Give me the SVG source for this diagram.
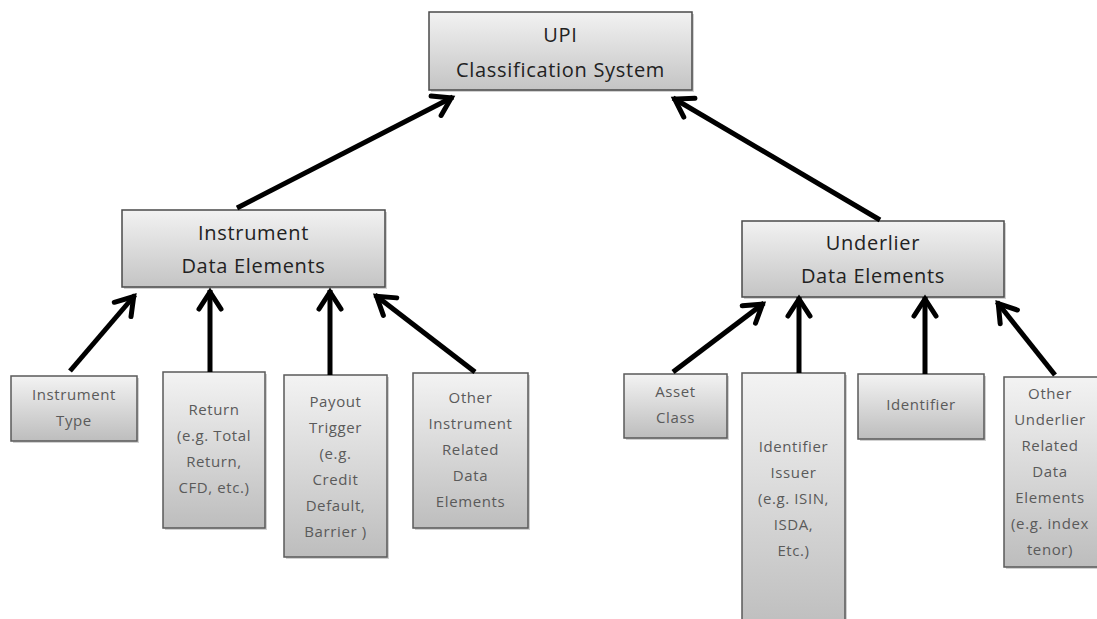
<svg xmlns="http://www.w3.org/2000/svg" width="1097" height="619" viewBox="0 0 1097 619">
<defs>
<linearGradient id="g" x1="0" y1="0" x2="0" y2="1">
<stop offset="0" stop-color="#f3f3f3"/>
<stop offset="1" stop-color="#bdbdbd"/>
</linearGradient>
<linearGradient id="gb" x1="0" y1="0" x2="0" y2="1">
<stop offset="0" stop-color="#f2f2f2"/>
<stop offset="1" stop-color="#c4c4c4"/>
</linearGradient>
<marker id="ah" markerUnits="userSpaceOnUse" viewBox="-30 -20 40 40" markerWidth="40" markerHeight="40" refX="0" refY="0" orient="auto" overflow="visible">
<path d="M-19 -11 L-2 0 L-19 11" fill="none" stroke="#000" stroke-width="5" stroke-linecap="round" stroke-linejoin="miter"/>
</marker>
</defs>
<style>
.box{fill:url(#g);stroke:#5a5a5a;stroke-width:1.5}
.big{fill:url(#gb);stroke:#4a4a4a;stroke-width:1.5}
.sh{fill:#000;opacity:0.18}
.t{font-family:"Open Sans","Noto Sans",sans-serif;font-size:15px;fill:#5a5a5a;text-anchor:middle;letter-spacing:0.6px}
.tb{font-family:"Open Sans","Noto Sans",sans-serif;font-size:20px;fill:#222;text-anchor:middle;letter-spacing:0.7px}
.c{stroke:#000;stroke-width:5;fill:none;stroke-linecap:butt;marker-end:url(#ah)}
</style>
<rect width="1097" height="619" fill="#fff"/>

<g id="upi">
<rect class="sh" x="431" y="14" width="263" height="78"/>
<rect class="big" x="429" y="12" width="263" height="78"/>
<text class="tb" x="560.5" y="42">UPI</text>
<text class="tb" x="560.5" y="77">Classification System</text>
</g>

<g id="instrument-de">
<rect class="sh" x="124" y="212" width="263" height="77"/>
<rect class="big" x="122" y="210" width="263" height="77"/>
<text class="tb" x="253.5" y="240">Instrument</text>
<text class="tb" x="253.5" y="273">Data Elements</text>
</g>

<g id="underlier-de">
<rect class="sh" x="744" y="223" width="262" height="76"/>
<rect class="big" x="742" y="221" width="262" height="76"/>
<text class="tb" x="873" y="250">Underlier</text>
<text class="tb" x="873" y="283">Data Elements</text>
</g>

<g id="instrument-type">
<rect class="sh" x="13" y="378" width="126" height="65"/>
<rect class="box" x="11" y="376" width="126" height="65"/>
<text class="t" x="74" y="400">Instrument</text>
<text class="t" x="74" y="426">Type</text>
</g>

<g id="return">
<rect class="sh" x="165" y="374" width="102" height="156"/>
<rect class="box" x="163" y="372" width="102" height="156"/>
<text class="t" x="214" y="415">Return</text>
<text class="t" x="214" y="441">(e.g. Total</text>
<text class="t" x="214" y="467">Return,</text>
<text class="t" x="214" y="493">CFD, etc.)</text>
</g>

<g id="payout-trigger">
<rect class="sh" x="286" y="377" width="103" height="182"/>
<rect class="box" x="284" y="375" width="103" height="182"/>
<text class="t" x="335.5" y="407">Payout</text>
<text class="t" x="335.5" y="433">Trigger</text>
<text class="t" x="335.5" y="459">(e.g.</text>
<text class="t" x="335.5" y="485">Credit</text>
<text class="t" x="335.5" y="511">Default,</text>
<text class="t" x="335.5" y="537">Barrier )</text>
</g>

<g id="other-instrument">
<rect class="sh" x="415" y="375" width="115" height="155"/>
<rect class="box" x="413" y="373" width="115" height="155"/>
<text class="t" x="470.5" y="403">Other</text>
<text class="t" x="470.5" y="429">Instrument</text>
<text class="t" x="470.5" y="455">Related</text>
<text class="t" x="470.5" y="481">Data</text>
<text class="t" x="470.5" y="507">Elements</text>
</g>

<g id="asset-class">
<rect class="sh" x="626" y="376" width="103" height="64"/>
<rect class="box" x="624" y="374" width="103" height="64"/>
<text class="t" x="675.5" y="397">Asset</text>
<text class="t" x="675.5" y="423">Class</text>
</g>

<g id="identifier-issuer">
<rect class="sh" x="744" y="375" width="103" height="260"/>
<rect class="box" x="742" y="373" width="103" height="260"/>
<text class="t" x="793.5" y="452">Identifier</text>
<text class="t" x="793.5" y="478">Issuer</text>
<text class="t" x="793.5" y="504">(e.g. ISIN,</text>
<text class="t" x="793.5" y="530">ISDA,</text>
<text class="t" x="793.5" y="556">Etc.)</text>
</g>

<g id="identifier">
<rect class="sh" x="860" y="376" width="126" height="65"/>
<rect class="box" x="858" y="374" width="126" height="65"/>
<text class="t" x="921" y="410">Identifier</text>
</g>

<g id="other-underlier">
<rect class="sh" x="1006" y="379" width="96" height="190"/>
<rect class="box" x="1004" y="377" width="96" height="190"/>
<text class="t" x="1050" y="399">Other</text>
<text class="t" x="1050" y="425">Underlier</text>
<text class="t" x="1050" y="451">Related</text>
<text class="t" x="1050" y="477">Data</text>
<text class="t" x="1050" y="503">Elements</text>
<text class="t" x="1050" y="529">(e.g. index</text>
<text class="t" x="1050" y="555">tenor)</text>
</g>

<g id="connectors">
<line class="c" x1="237" y1="208" x2="453" y2="97"/>
<line class="c" x1="880" y1="220" x2="673" y2="98"/>
<line class="c" x1="70" y1="371" x2="135" y2="295"/>
<line class="c" x1="210" y1="372" x2="210" y2="290"/>
<line class="c" x1="330" y1="375" x2="330" y2="290"/>
<line class="c" x1="475" y1="372" x2="375" y2="295"/>
<line class="c" x1="673" y1="372" x2="764" y2="303"/>
<line class="c" x1="799" y1="373" x2="799" y2="297"/>
<line class="c" x1="925" y1="374" x2="925" y2="297"/>
<line class="c" x1="1055" y1="375" x2="997" y2="302"/>
</g>
</svg>
